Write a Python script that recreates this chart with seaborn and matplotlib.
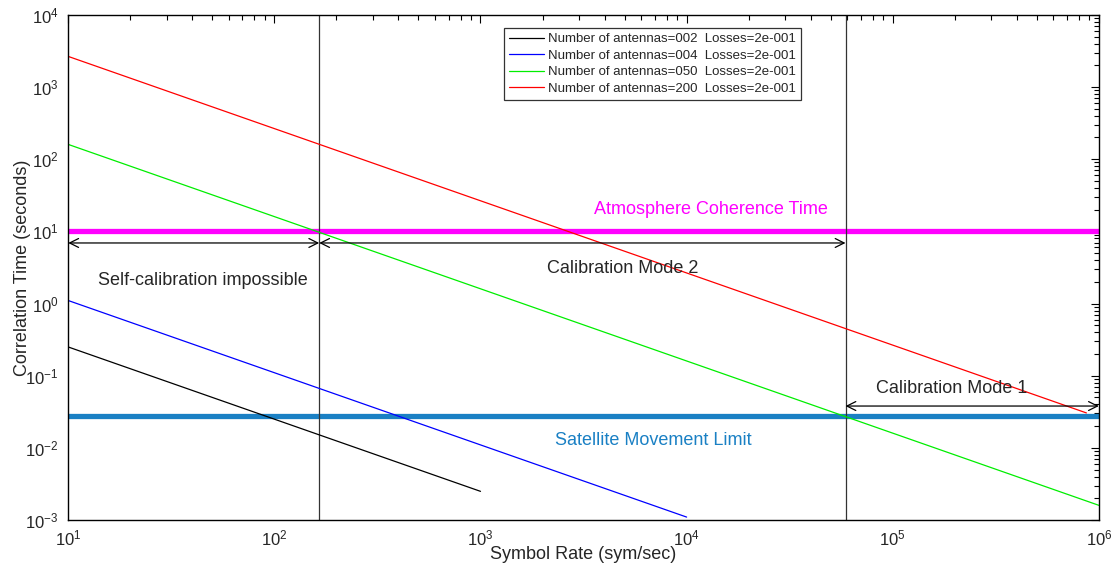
import numpy as np
import pandas as pd
import seaborn as sns
import matplotlib.pyplot as plt
from matplotlib.ticker import NullFormatter

# Correlation time vs symbol rate, one line per antenna count (losses 0.2)
antennas = ["002", "004", "050", "200"]
line_colors = ["black", "blue", "#00ee00", "red"]
rate_002 = [10, 1000]
time_002 = [0.25, 0.0025]
rate_004 = [10, 10000]
time_004 = [1.1, 0.0011]
rate_050 = [10, 1000000]
time_050 = [160, 0.0016]
rate_200 = [10, 870000]
time_200 = [2650, 0.0305]

# Limits and calibration regions
atmosphere_time = 10
satellite_limit = 0.028
mode_edges = [165, 59000]

rates = [rate_002, rate_004, rate_050, rate_200]
times = [time_002, time_004, time_050, time_200]
rows = []
for n, r, t in zip(antennas, rates, times):
    label = f"Number of antennas={n}  Losses=2e-001"
    for x, y in zip(r, t):
        rows.append({"rate": x, "time": y, "label": label})
df = pd.DataFrame(rows)

sns.set_style("white")
plt.rcParams['font.family'] = ['Liberation Sans', 'DejaVu Sans']
plt.rcParams['mathtext.fontset'] = 'custom'
plt.rcParams['mathtext.rm'] = 'Liberation Sans'
plt.rcParams['mathtext.it'] = 'Liberation Sans'

fig = plt.figure(figsize=(11.19, 5.69), dpi=100)
ax = fig.add_axes([0.061, 0.086, 0.921, 0.888])

sns.lineplot(data=df, x="rate", y="time", hue="label", palette=line_colors,
             linewidth=0.9, ax=ax, legend=True)
ax.set_xscale("log")
ax.set_yscale("log")
ax.set_xlim(10, 1e6)
ax.set_ylim(1e-3, 1e4)
ax.xaxis.set_minor_formatter(NullFormatter())
ax.yaxis.set_minor_formatter(NullFormatter())

# thick limit lines
ax.axhline(atmosphere_time, color="#ff00ff", linewidth=3.8, zorder=1)
ax.axhline(satellite_limit, color="#1a80c4", linewidth=3.8, zorder=1)
for e in mode_edges:
    ax.axvline(e, color="#333333", linewidth=0.9, zorder=1)

# region arrows
arrow = dict(arrowstyle="<->", color="black", lw=0.9, shrinkA=0, shrinkB=0,
             mutation_scale=16)
ax.annotate("", xy=(10, 6.9), xytext=(mode_edges[0], 6.9), arrowprops=arrow)
ax.annotate("", xy=(mode_edges[0], 6.9), xytext=(mode_edges[1], 6.9), arrowprops=arrow)
ax.annotate("", xy=(mode_edges[1], 0.038), xytext=(1e6, 0.038), arrowprops=arrow)

ax.text(0.131, 0.474, "Self-calibration impossible", transform=ax.transAxes,
        ha="center", va="center", fontsize=13)
ax.text(0.538, 0.497, "Calibration Mode 2", transform=ax.transAxes,
        ha="center", va="center", fontsize=13)
ax.text(0.857, 0.26, "Calibration Mode 1", transform=ax.transAxes,
        ha="center", va="center", fontsize=13)
ax.text(0.624, 0.614, "Atmosphere Coherence Time", transform=ax.transAxes,
        ha="center", va="center", fontsize=13, color="#ff00ff")
ax.text(0.568, 0.158, "Satellite Movement Limit", transform=ax.transAxes,
        ha="center", va="center", fontsize=13, color="#1a80c4")

ax.set_xlabel("Symbol Rate (sym/sec)", fontsize=13, labelpad=-2)
ax.set_ylabel("Correlation Time (seconds)", fontsize=13, labelpad=-4)

ax.tick_params(which="both", direction="in", top=True, right=True,
               labelsize=12, color="black")
ax.tick_params(axis="x", which="major", pad=6)
ax.tick_params(axis="y", which="major", pad=7)
ax.tick_params(which="major", length=6, width=0.8)
ax.tick_params(which="minor", length=3.5, width=0.8)
for s in ax.spines.values():
    s.set_color("black")
    s.set_linewidth(1.0)

leg = ax.legend(loc="upper left", bbox_to_anchor=(0.4165, 0.987), fontsize=9.5,
                frameon=True, fancybox=False, edgecolor="black",
                handlelength=2.6, borderpad=0.4, labelspacing=0.32,
                handletextpad=0.3)
leg.get_frame().set_linewidth(0.9)

fig.savefig("out.png", dpi=100)
